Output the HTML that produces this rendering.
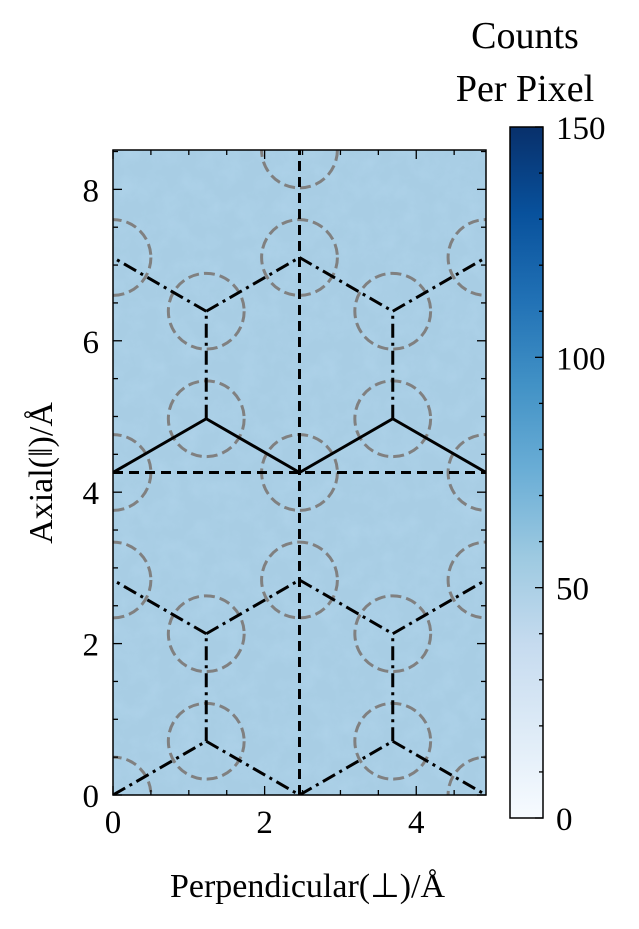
<!DOCTYPE html>
<html><head><meta charset="utf-8"><style>
body{margin:0;background:#fff;}
svg text{font-family:"Liberation Serif",serif;fill:#000;}
</style></head><body>
<svg id="c" width="639" height="924" xmlns="http://www.w3.org/2000/svg">
<defs>
<linearGradient id="cb" x1="0" y1="1" x2="0" y2="0">
<stop offset="0" stop-color="#f7fbff"/><stop offset="0.125" stop-color="#deebf7"/>
<stop offset="0.25" stop-color="#c6dbef"/><stop offset="0.375" stop-color="#9ecae1"/>
<stop offset="0.5" stop-color="#6baed6"/><stop offset="0.625" stop-color="#4292c6"/>
<stop offset="0.75" stop-color="#2171b5"/><stop offset="0.875" stop-color="#08519c"/>
<stop offset="1" stop-color="#08306b"/></linearGradient>
<filter id="noise" x="0" y="0" width="100%" height="100%">
<feTurbulence type="fractalNoise" baseFrequency="0.05" numOctaves="4" seed="7" result="t"/>
<feColorMatrix in="t" type="matrix" values="0 0 0 0 0.45  0 0 0 0 0.68  0 0 0 0 0.85  0 0 0 1.6 -0.6"/>
</filter>
<clipPath id="pc"><rect x="113" y="150" width="373" height="645"/></clipPath>
</defs>
</svg>
<script>
const xTicks=[0,2,4];
const yTicks=[0,2,4,6,8];
const cbTicks=[0,50,100,150];
const xMax=4.92, yMax=8.52, cMax=150;
const circles=[[0,0],[4.92,0],[1.23,0.71],[3.69,0.71],[1.23,2.13],[3.69,2.13],[0,2.84],[2.46,2.84],[4.92,2.84],[0,4.26],[2.46,4.26],[4.92,4.26],[1.23,4.97],[3.69,4.97],[1.23,6.39],[3.69,6.39],[0,7.1],[2.46,7.1],[4.92,7.1],[2.46,8.52]];
const solidSegs=[[0,4.26,1.23,4.97],[1.23,4.97,2.46,4.26],[2.46,4.26,3.69,4.97],[3.69,4.97,4.92,4.26]];
const dashDotSegs=[[0,0,1.23,0.71],[1.23,0.71,2.46,0],[2.46,0,3.69,0.71],[3.69,0.71,4.92,0],[1.23,0.71,1.23,2.13],[3.69,0.71,3.69,2.13],[1.23,2.13,0,2.84],[1.23,2.13,2.46,2.84],[2.46,2.84,3.69,2.13],[3.69,2.13,4.92,2.84],[1.23,4.97,1.23,6.39],[3.69,4.97,3.69,6.39],[1.23,6.39,0,7.1],[1.23,6.39,2.46,7.1],[2.46,7.1,3.69,6.39],[3.69,6.39,4.92,7.1]];
const dashedSegs=[[2.46,0,2.46,8.52],[0,4.26,4.92,4.26]];
const circleR=0.5;

const L=113,R=486,T=150,B=795;
const sx=v=>L+v/xMax*(R-L), sy=v=>B-v/yMax*(B-T);
const CT=127,CB=818,CL=510,CR=543;
const sc=v=>CB-v/cMax*(CB-CT);
const svg=document.getElementById('c');
const NS='http://www.w3.org/2000/svg';
function mk(tag,attrs,parent){const e=document.createElementNS(NS,tag);for(const k in attrs)e.setAttribute(k,attrs[k]);(parent||svg).appendChild(e);return e;}

let bg=mk('rect',{x:L,y:T,width:R-L,height:B-T,fill:'#a8cde4'});


let nz=mk('rect',{x:L,y:T,width:R-L,height:B-T,filter:'url(#noise)',opacity:0.6});



const g=mk('g',{'clip-path':'url(#pc)'});


circles.forEach(c=>{const e=mk('circle',{cx:sx(c[0]),cy:sy(c[1]),r:circleR/xMax*(R-L),fill:'none',stroke:'#808080','stroke-width':3,'stroke-dasharray':'11 5'},g);

});
function segs(arr,dash,name){arr.forEach(s=>{const e=mk('line',{x1:sx(s[0]),y1:sy(s[1]),x2:sx(s[2]),y2:sy(s[3]),stroke:'#000','stroke-width':3,'stroke-dasharray':dash},g);

});}
segs(dashDotSegs,'14 5 3 5','bond-dashdot');
segs(dashedSegs,'10 6','axis-dashed-line');
segs(solidSegs,'none','bond-solid');

let fr=mk('rect',{x:L,y:T,width:R-L,height:B-T,fill:'none',stroke:'#000','stroke-width':1.5});


for(let v=0;v<=xMax+1e-9;v+=0.5){const maj=xTicks.includes(v);const len=maj?9:5;
mk('line',{x1:sx(v),x2:sx(v),y1:B,y2:B-len,stroke:'#000','stroke-width':1.3});
mk('line',{x1:sx(v),x2:sx(v),y1:T,y2:T+len,stroke:'#000','stroke-width':1.3});}
for(let v=0;v<=yMax+1e-9;v+=0.5){const maj=yTicks.includes(v);const len=maj?9:5;
mk('line',{x1:L,x2:L+len,y1:sy(v),y2:sy(v),stroke:'#000','stroke-width':1.3});
mk('line',{x1:R,x2:R-len,y1:sy(v),y2:sy(v),stroke:'#000','stroke-width':1.3});}
xTicks.forEach(v=>{const t=mk('text',{x:sx(v),y:B+38,'font-size':33,'text-anchor':'middle'});t.textContent=v;

});
yTicks.forEach(v=>{const t=mk('text',{x:L-14,y:sy(v)+12,'font-size':33,'text-anchor':'end'});t.textContent=v;

});
let xt=mk('text',{x:(L+R)/2+8,y:897,'font-size':34,'text-anchor':'middle'});xt.textContent='Perpendicular(⊥)/Å';


let yt=mk('text',{x:0,y:0,'font-size':34,'text-anchor':'middle',transform:'translate(52,473) rotate(-90)'});yt.textContent='Axial(‖)/Å';



let cb=mk('rect',{x:CL,y:CT,width:CR-CL,height:CB-CT,fill:'url(#cb)',stroke:'#000','stroke-width':1.5});


for(let v=0;v<=cMax;v+=10){const maj=cbTicks.includes(v);const len=maj?8:4;
mk('line',{x1:CR,x2:CR-len,y1:sc(v),y2:sc(v),stroke:'#000','stroke-width':1.3});}
cbTicks.forEach(v=>{const t=mk('text',{x:CR+13,y:sc(v)+12,'font-size':33});t.textContent=v;

});
let c1=mk('text',{x:525,y:48,'font-size':38,'text-anchor':'middle'});c1.textContent='Counts';


let c2=mk('text',{x:525,y:101,'font-size':38,'text-anchor':'middle'});c2.textContent='Per Pixel';


</script>
</body></html>
